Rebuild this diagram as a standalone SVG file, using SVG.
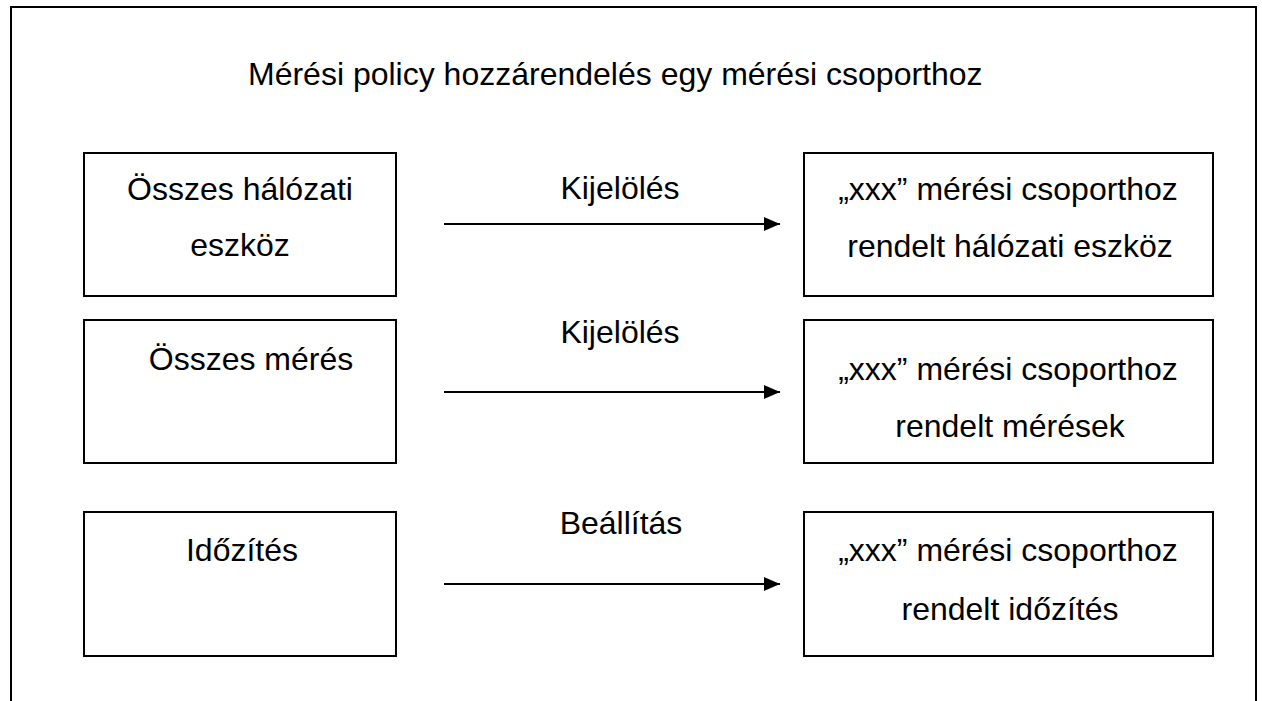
<svg xmlns="http://www.w3.org/2000/svg" width="1262" height="701" viewBox="0 0 1262 701">
<defs>
<style>
.t{font-family:"Liberation Sans",Arial,sans-serif;font-size:32px;fill:#000;text-anchor:middle}
.title{font-family:"Liberation Sans",Arial,sans-serif;font-size:32px;fill:#000}
.box{fill:#fff;stroke:#000;stroke-width:2}
.conn{stroke:#000;stroke-width:2;fill:none}
</style>
<marker id="ah" markerWidth="16" markerHeight="14" refX="16" refY="7" orient="auto" markerUnits="userSpaceOnUse">
<path d="M0,0 L16,7 L0,14 Z" fill="#000"/>
</marker>
</defs>
<rect width="1262" height="701" fill="#fff"/>
<path d="M11,702 V7 H1256 V702" fill="none" stroke="#000" stroke-width="2"/>
<text class="title" x="248" y="85">Mérési policy hozzárendelés egy mérési csoporthoz</text>
<g id="n1"><rect class="box" x="84" y="153" width="312" height="143"/><text class="t" x="240" y="200">Összes hálózati</text><text class="t" x="240" y="256">eszköz</text></g>
<g id="n2"><rect class="box" x="804" y="153" width="409" height="143"/><text class="t" x="1008" y="200">„xxx” mérési csoporthoz</text><text class="t" x="1010" y="257">rendelt hálózati eszköz</text></g>
<g id="n3"><rect class="box" x="84" y="320" width="312" height="143"/><text class="t" x="251" y="370">Összes mérés</text></g>
<g id="n4"><rect class="box" x="804" y="320" width="409" height="143"/><text class="t" x="1008" y="380">„xxx” mérési csoporthoz</text><text class="t" x="1010" y="437">rendelt mérések</text></g>
<g id="n5"><rect class="box" x="84" y="512" width="312" height="144"/><text class="t" x="242" y="561">Időzítés</text></g>
<g id="n6"><rect class="box" x="804" y="512" width="409" height="144"/><text class="t" x="1008" y="561">„xxx” mérési csoporthoz</text><text class="t" x="1010" y="620">rendelt időzítés</text></g>
<g id="connectors">
<line class="conn" x1="444" y1="224" x2="780" y2="224" marker-end="url(#ah)"/>
<line class="conn" x1="444" y1="392" x2="780" y2="392" marker-end="url(#ah)"/>
<line class="conn" x1="444" y1="584" x2="780" y2="584" marker-end="url(#ah)"/>
<text class="t" x="620" y="199">Kijelölés</text>
<text class="t" x="620" y="343">Kijelölés</text>
<text class="t" x="621" y="534">Beállítás</text>
</g>
</svg>
